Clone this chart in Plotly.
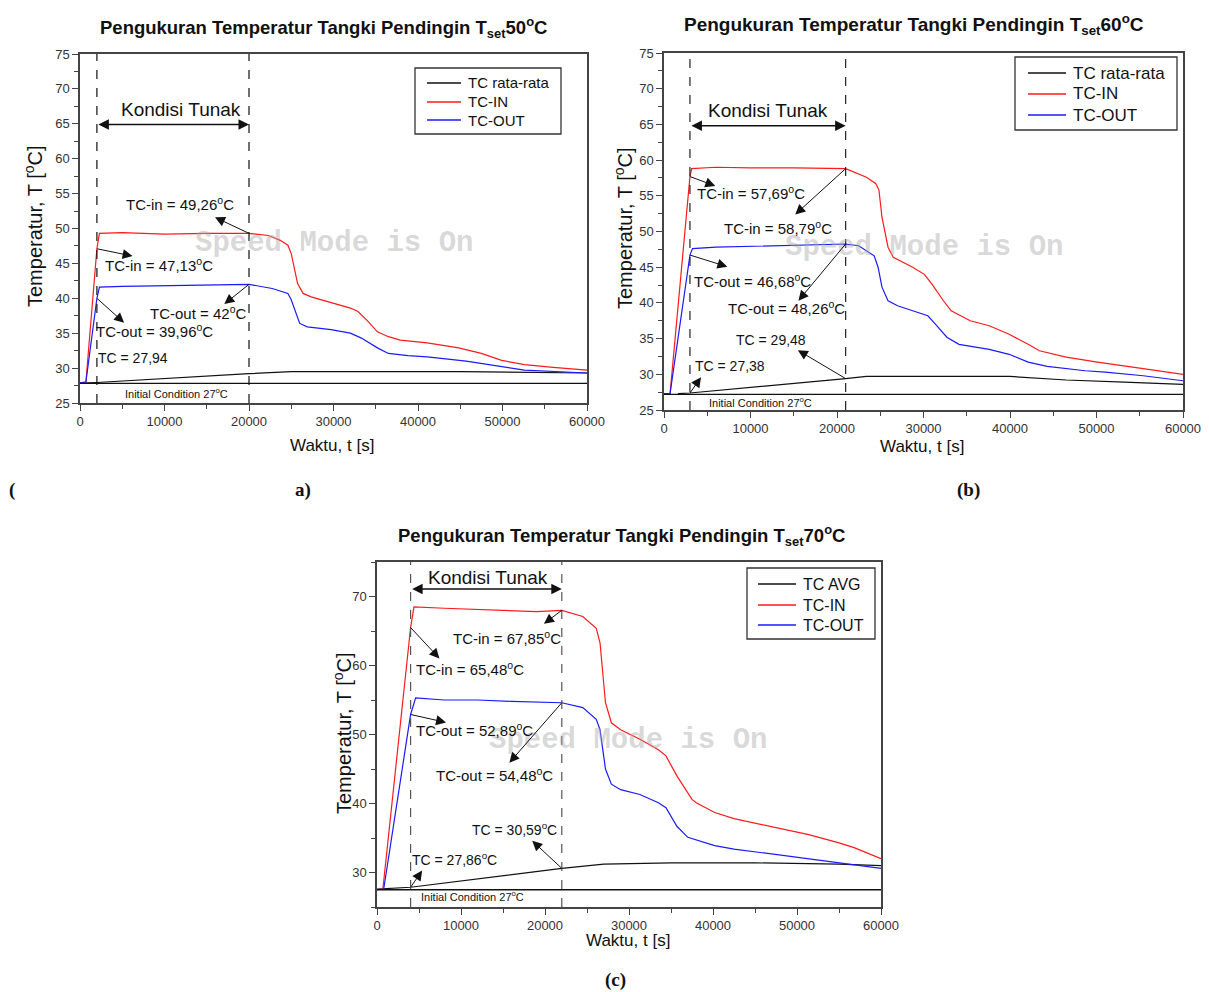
import plotly.graph_objects as go

# ---------------- DATA ----------------
# Panel (a)  T_set = 50 C
t_a_in = [0, 700, 2000, 2300, 5000, 10000, 15000, 20000, 22300, 23700, 24600, 25000, 25750, 26400, 27350,
          30100, 32000, 32900, 34000, 35200, 36500, 37900, 41100, 44800, 47500, 49900, 52600, 56000, 60000]
in_a = [27.9, 28.0, 47.1, 49.3, 49.4, 49.2, 49.3, 49.3, 49.0, 48.3, 47.6, 46.4, 42.1, 40.7, 40.2,
        39.3, 38.6, 38.1, 36.8, 35.2, 34.5, 34.0, 33.6, 32.9, 32.1, 31.1, 30.5, 30.1, 29.7]
t_a_out = [0, 700, 2000, 2300, 5000, 10000, 15000, 20000, 22750, 24600, 25000, 26000, 26900, 29700, 32000,
           33300, 35200, 36500, 38800, 41100, 45700, 49400, 52600, 60000]
out_a = [27.9, 28.0, 40.0, 41.6, 41.7, 41.8, 41.9, 42.0, 41.4, 40.7, 39.8, 36.4, 35.9, 35.5, 35.0,
         34.3, 32.9, 32.1, 31.8, 31.6, 31.0, 30.3, 29.7, 29.3]
t_a_avg = [0, 2000, 20000, 25000, 45000, 50000, 60000]
avg_a = [27.85, 27.94, 29.2, 29.5, 29.5, 29.4, 29.3]
init_a = 27.8
steady_a = [2000, 20000]

# Panel (b)  T_set = 60 C
t_b_in = [0, 700, 3000, 3200, 6000, 10000, 15000, 21000, 23400, 24500, 24850, 25200, 25900, 26500, 28750,
          30100, 31000, 32300, 33200, 35400, 37600, 39900, 42100, 43400, 46500, 50100, 55400, 60000]
in_b = [27.3, 27.3, 57.7, 58.8, 59.0, 58.9, 58.9, 58.8, 57.6, 56.7, 55.8, 52.0, 47.8, 46.4, 45.0,
        44.0, 42.6, 40.3, 38.9, 37.5, 36.8, 35.6, 34.2, 33.3, 32.4, 31.7, 30.8, 30.0]
t_b_out = [0, 700, 3000, 3300, 6000, 10000, 15000, 21000, 22500, 24300, 24750, 25200, 25900, 27000, 28750,
           30500, 31400, 32700, 34100, 37600, 39900, 42100, 44300, 48700, 51000, 55400, 60000]
out_b = [27.3, 27.3, 46.7, 47.6, 47.8, 47.9, 48.1, 48.25, 48.0, 46.6, 45.0, 42.2, 40.3, 39.6, 38.9,
         38.2, 37.0, 35.2, 34.2, 33.5, 32.8, 31.7, 31.1, 30.5, 30.3, 29.8, 29.1]
t_b_avg = [1600, 3000, 21000, 23400, 40000, 46500, 53200, 60000]
avg_b = [27.3, 27.38, 29.4, 29.7, 29.7, 29.2, 28.9, 28.6]
init_b = 27.2
steady_b = [3000, 21000]

# Panel (c)  T_set = 70 C
t_c_in = [0, 700, 4000, 4400, 8000, 12000, 16000, 19000, 22000, 24500, 26100, 26550, 27200, 27900, 29000,
          31300, 33500, 34400, 35700, 37500, 38000, 40200, 42500, 46900, 51400, 55000, 56800, 60000]
in_c = [27.5, 27.6, 65.5, 68.5, 68.3, 68.1, 68.0, 67.8, 68.0, 67.1, 65.4, 63.3, 54.6, 51.7, 50.7,
        49.3, 47.8, 46.9, 44.0, 40.6, 40.1, 38.7, 37.8, 36.7, 35.5, 34.3, 33.6, 32.0]
t_c_out = [0, 800, 4000, 4600, 8000, 12000, 16000, 22000, 24500, 26100, 26550, 27200, 27900, 29000, 31300,
           33500, 34400, 35700, 37000, 40200, 42500, 46900, 51400, 55800, 60000]
out_c = [27.5, 27.6, 52.9, 55.3, 55.0, 55.0, 54.8, 54.6, 53.9, 52.2, 50.7, 45.0, 42.8, 42.0, 41.3,
         40.1, 39.4, 36.7, 35.1, 33.9, 33.4, 32.7, 31.9, 31.2, 30.6]
t_c_avg = [0, 4000, 22000, 27000, 35000, 45000, 55000, 60000]
avg_c = [27.6, 27.86, 30.6, 31.2, 31.4, 31.4, 31.2, 31.0]
init_c = 27.5
steady_c = [4000, 22000]

legend_names_ab = ["TC rata-rata", "TC-IN", "TC-OUT"]
legend_names_c = ["TC AVG", "TC-IN", "TC-OUT"]

# ---------------- FIGURE ----------------
W, H = 1209, 992
FONT = "Liberation Sans, Arial, sans-serif"
RED, BLUE, BLACK = "#ff1a1a", "#1a1aff", "#111111"
COLORS = [BLACK, RED, BLUE]

def px(xp):
    return xp / W

def py(yp):
    return 1 - yp / H

fig = go.Figure()

panels = [
    dict(n="", names=legend_names_ab,
         tin=t_a_in, vin=in_a, tout=t_a_out, vout=out_a, tavg=t_a_avg, vavg=avg_a),
    dict(n="2", names=legend_names_ab,
         tin=t_b_in, vin=in_b, tout=t_b_out, vout=out_b, tavg=t_b_avg, vavg=avg_b),
    dict(n="3", names=legend_names_c,
         tin=t_c_in, vin=in_c, tout=t_c_out, vout=out_c, tavg=t_c_avg, vavg=avg_c),
]

for p in panels:
    xa, ya = "x" + p["n"], "y" + p["n"]
    for (tt, vv), nm, col in zip([(p["tavg"], p["vavg"]), (p["tin"], p["vin"]), (p["tout"], p["vout"])],
                                 p["names"], COLORS):
        fig.add_trace(go.Scatter(x=tt, y=vv, mode="lines", name=nm, showlegend=False,
                                 line=dict(color=col, width=1.2), xaxis=xa, yaxis=ya))

def xaxis_cfg(dom, anchor):
    return dict(domain=dom, anchor=anchor, range=[0, 60000], dtick=10000, tick0=0, tickformat="d",
                showline=True, linecolor="#444", linewidth=1.5, mirror=True,
                ticks="outside", ticklen=6, tickcolor="#444", showgrid=False, zeroline=False,
                tickfont=dict(family=FONT, size=13, color="#333"),
                minor=dict(ticks="outside", ticklen=4, dtick=5000, tickcolor="#444"))

def yaxis_cfg(dom, anchor, dtick, mdtick):
    return dict(domain=dom, anchor=anchor, range=[25, 75], dtick=dtick, tick0=0, tickformat="d",
                showline=True, linecolor="#444", linewidth=1.5, mirror=True,
                ticks="outside", ticklen=6, tickcolor="#444", showgrid=False, zeroline=False,
                tickfont=dict(family=FONT, size=13, color="#333"),
                minor=dict(ticks="outside", ticklen=4, dtick=mdtick, tickcolor="#444"))

fig.update_layout(
    width=W, height=H, margin=dict(l=0, r=0, t=0, b=0, autoexpand=False),
    paper_bgcolor="white", plot_bgcolor="white", showlegend=False,
    xaxis=xaxis_cfg([px(80), px(587)], "y"),
    yaxis=yaxis_cfg([py(403), py(54)], "x", 5, 2.5),
    xaxis2=xaxis_cfg([px(664), px(1183)], "y2"),
    yaxis2=yaxis_cfg([py(410), py(53)], "x2", 5, 2.5),
    xaxis3=xaxis_cfg([px(377), px(881)], "y3"),
    yaxis3=yaxis_cfg([py(907), py(562)], "x3", 10, 5),
)
fig.layout.yaxis3.tick0 = 30

# ---- legends (box, line samples, labels) ----
def legend_box(box, line_x, text_x, rows, names, size):
    x0, y0, x1, y1 = box
    fig.add_shape(type="rect", xref="paper", yref="paper", x0=px(x0), x1=px(x1), y0=py(y1), y1=py(y0),
                  line=dict(color="#333", width=1.3), fillcolor="white", layer="above")
    for yy, nm, col in zip(rows, names, COLORS):
        fig.add_shape(type="line", xref="paper", yref="paper", x0=px(line_x[0]), x1=px(line_x[1]),
                      y0=py(yy), y1=py(yy), line=dict(color=col, width=1.3), layer="above")
        fig.add_annotation(xref="paper", yref="paper", x=px(text_x), y=py(yy), text=nm, showarrow=False,
                           xanchor="left", yanchor="middle",
                           font=dict(family=FONT, size=size, color="#111"))

legend_box((415, 68, 561, 134), (427, 461), 466, [83, 102, 120], legend_names_ab, 15)
legend_box((1015, 57, 1177, 130), (1028, 1066), 1071, [73, 94, 115], legend_names_ab, 17)
legend_box((747, 568, 875, 639), (758, 796), 801, [584, 605, 625], legend_names_c, 16)

# ---- shapes: steady-state dashed lines and initial-condition lines ----
for n, st, init, dcol in [("", steady_a, init_a, "#111"), ("2", steady_b, init_b, "#222"),
                          ("3", steady_c, init_c, "#555")]:
    for tv in st:
        fig.add_shape(type="line", xref="x" + n, yref=("y" + n + " domain"), x0=tv, x1=tv, y0=0, y1=1,
                      line=dict(color=dcol, width=1.2, dash="dash"))
    fig.add_shape(type="line", xref=("x" + n + " domain"), yref="y" + n, x0=0, x1=1, y0=init, y1=init,
                  line=dict(color="#111", width=1.3))

def txt(n, x, y, s, size=15, family=FONT, color="#111", **kw):
    fig.add_annotation(xref="x" + n, yref="y" + n, x=x, y=y, text=s, showarrow=False,
                       font=dict(family=family, size=size, color=color), **kw)

def arrow(n, x0, y0, x1, y1):
    # tail on the curve (x0, y0), head at (x1, y1)
    fig.add_annotation(xref="x" + n, yref="y" + n, axref="x" + n, ayref="y" + n,
                       x=x0, y=y0, ax=x1, ay=y1, text="", showarrow=True,
                       arrowside="start", startarrowhead=2, startarrowsize=2,
                       arrowwidth=1, arrowcolor="#111", standoff=0, startstandoff=0)

def dblarrow(n, x0, x1, y):
    fig.add_annotation(xref="x" + n, yref="y" + n, axref="x" + n, ayref="y" + n,
                       x=x1, y=y, ax=x0, ay=y, text="", showarrow=True,
                       arrowside="end+start", arrowhead=2, startarrowhead=2,
                       arrowsize=1.4, startarrowsize=1.4,
                       arrowwidth=1.5, arrowcolor="#111", standoff=0, startstandoff=0)

WM = "Speed Mode is On"
WMFONT = "Liberation Mono, Courier New, monospace"
WMCOL = "rgba(170,170,170,0.45)"

# ----- Panel a annotations -----
txt("", 30000, 47.9, "<b>" + WM + "</b>", size=29, family=WMFONT, color=WMCOL)
txt("", 11900, 67.0, "Kondisi Tunak", size=19)
dblarrow("", steady_a[0], steady_a[1], 64.9)
arrow("", 20000, 49.3, 15800, 51.7)
txt("", 11800, 53.6, "TC-in = 49,26<sup>o</sup>C")
arrow("", 2000, 47.1, 6400, 46.0)
txt("", 9400, 44.8, "TC-in = 47,13<sup>o</sup>C")
arrow("", 20000, 42.0, 16900, 39.0)
txt("", 14000, 37.9, "TC-out = 42<sup>o</sup>C")
arrow("", 2000, 40.0, 5400, 36.3)
txt("", 8800, 35.4, "TC-out = 39,96<sup>o</sup>C")
txt("", 6300, 31.5, "TC = 27,94", size=14)
txt("", 11450, 26.5, "Initial Condition 27<sup>o</sup>C", size=11)

# ----- Panel b annotations -----
txt("2", 30100, 47.8, "<b>" + WM + "</b>", size=29, family=WMFONT, color=WMCOL)
txt("2", 12000, 66.9, "Kondisi Tunak", size=19)
dblarrow("2", steady_b[0], steady_b[1], 64.8)
arrow("2", 3000, 57.7, 6100, 56.3)
txt("2", 10000, 55.5, "TC-in = 57,69<sup>o</sup>C")
arrow("2", 21000, 58.8, 15000, 52.2)
txt("2", 13150, 50.6, "TC-in = 58,79<sup>o</sup>C")
arrow("2", 3000, 46.7, 7500, 45.0)
txt("2", 10200, 43.2, "TC-out = 46,68<sup>o</sup>C")
arrow("2", 21000, 48.25, 15400, 40.1)
txt("2", 14200, 39.3, "TC-out = 48,26<sup>o</sup>C")
arrow("2", 21000, 29.4, 15300, 33.5)
txt("2", 12400, 34.8, "TC = 29,48", size=14)
arrow("2", 3000, 27.38, 4400, 29.8)
txt("2", 7600, 31.1, "TC = 27,38", size=14)
txt("2", 11150, 26.1, "Initial Condition 27<sup>o</sup>C", size=11)

# ----- Panel c annotations -----
txt("3", 29900, 49.2, "<b>" + WM + "</b>", size=29, family=WMFONT, color=WMCOL)
txt("3", 13200, 72.8, "Kondisi Tunak", size=19)
dblarrow("3", steady_c[0], steady_c[1], 71.1)
arrow("3", 22000, 68.0, 19700, 65.9)
txt("3", 15500, 64.0, "TC-in = 67,85<sup>o</sup>C")
arrow("3", 4000, 65.5, 7600, 60.8)
txt("3", 11100, 59.6, "TC-in = 65,48<sup>o</sup>C")
arrow("3", 4000, 52.9, 8400, 51.7)
txt("3", 11550, 50.7, "TC-out = 52,89<sup>o</sup>C")
arrow("3", 22000, 54.6, 15600, 45.7)
txt("3", 14000, 44.2, "TC-out = 54,48<sup>o</sup>C")
arrow("3", 22000, 30.6, 18300, 34.8)
txt("3", 16400, 36.3, "TC = 30,59<sup>o</sup>C", size=14)
arrow("3", 4000, 27.86, 5500, 30.5)
txt("3", 9200, 31.9, "TC = 27,86<sup>o</sup>C", size=14)
txt("3", 11400, 26.6, "Initial Condition 27<sup>o</sup>C", size=11)

# ----- paper-level text: titles, axis titles, captions -----
def ptxt(xp, yp, s, size, family=FONT, angle=0, color="#111"):
    fig.add_annotation(xref="paper", yref="paper", x=px(xp), y=py(yp), text=s, showarrow=False,
                       textangle=angle, xanchor="center", yanchor="middle",
                       font=dict(family=family, size=size, color=color))

ptxt(324, 27, "<b>Pengukuran Temperatur Tangki Pendingin T<sub>set</sub>50<sup>o</sup>C</b>", 18.5)
ptxt(914, 25, "<b>Pengukuran Temperatur Tangki Pendingin T<sub>set</sub>60<sup>o</sup>C</b>", 19)
ptxt(621, 535, "<b>Pengukuran Temperatur Tangki Pendingin T<sub>set</sub>70<sup>o</sup>C</b>", 18.5)

ptxt(332, 445, "Waktu, t [s]", 17)
ptxt(922, 446, "Waktu, t [s]", 17)
ptxt(628, 940, "Waktu, t [s]", 17)

ptxt(34, 226, "Temperatur, T [<sup>o</sup>C]", 20, angle=-90)
ptxt(623, 228, "Temperatur, T [<sup>o</sup>C]", 20, angle=-90)
ptxt(342, 733, "Temperatur, T [<sup>o</sup>C]", 20, angle=-90)

SERIF = "Liberation Serif, Times New Roman, serif"
ptxt(12, 490, "<b>(</b>", 19, family=SERIF)
ptxt(303, 490, "<b>a)</b>", 19, family=SERIF)
ptxt(968, 490, "<b>(b)</b>", 19, family=SERIF)
ptxt(615, 980, "<b>(c)</b>", 19, family=SERIF)

fig.write_html("out.html", config={"displayModeBar": False},
               post_script="document.body.style.margin='0';document.body.style.overflow='hidden';")
